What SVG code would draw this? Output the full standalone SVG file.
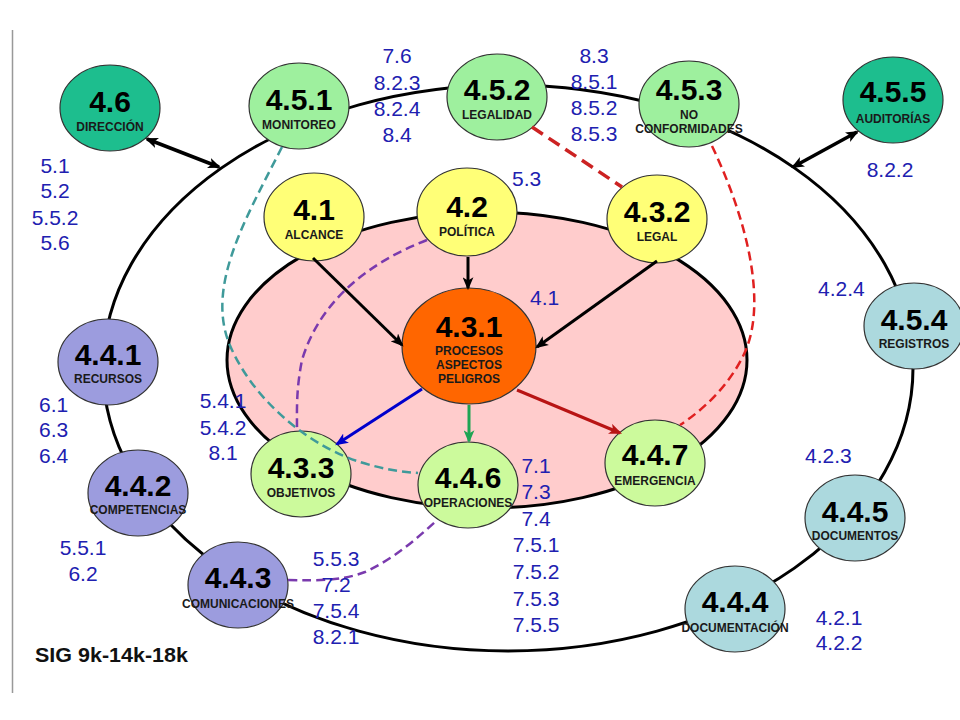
<svg xmlns="http://www.w3.org/2000/svg" width="960" height="720" viewBox="0 0 960 720">
<style>
text{font-family:"Liberation Sans",Arial,sans-serif}
.t{font-size:30px;font-weight:bold;text-anchor:middle;fill:#000}
.l{font-size:12px;font-weight:bold;text-anchor:middle;fill:#1a1a1a}
.n{font-size:21px;fill:#2020B0}
.c{text-anchor:middle}
.nd{stroke:#333;stroke-width:1.2}
.teal{fill:#1DBE8E}.mint{fill:#9EF09E}.yel{fill:#FFFF77}.lime{fill:#CCFA9C}.org{fill:#FF6600}.lav{fill:#9C9CDE}.lb{fill:#ACD9DE}
.dash{fill:none;stroke-width:2.5;stroke-dasharray:9 5}
</style>
<defs>
<marker id="ak" viewBox="0 0 12 10" refX="10" refY="5" markerWidth="13" markerHeight="11" markerUnits="userSpaceOnUse" orient="auto-start-reverse"><path d="M0,0 L12,5 L0,10 L3,5 z" fill="#000"/></marker>
<marker id="ab" viewBox="0 0 12 10" refX="10" refY="5" markerWidth="13" markerHeight="11" markerUnits="userSpaceOnUse" orient="auto"><path d="M0,0 L12,5 L0,10 L3,5 z" fill="#0000CC"/></marker>
<marker id="ag" viewBox="0 0 12 10" refX="10" refY="5" markerWidth="13" markerHeight="11" markerUnits="userSpaceOnUse" orient="auto"><path d="M0,0 L12,5 L0,10 L3,5 z" fill="#1FA453"/></marker>
<marker id="ar" viewBox="0 0 12 10" refX="10" refY="5" markerWidth="13" markerHeight="11" markerUnits="userSpaceOnUse" orient="auto"><path d="M0,0 L12,5 L0,10 L3,5 z" fill="#B81414"/></marker>
</defs>
<rect width="960" height="720" fill="#fff"/>
<line x1="12.5" y1="30" x2="12.5" y2="693" stroke="#999" stroke-width="1.5"/>
<g id="rings">
<ellipse cx="508" cy="368" rx="405" ry="283" fill="none" stroke="#000" stroke-width="3"/>
<ellipse cx="487" cy="360" rx="260" ry="148" fill="#FFCCCC" stroke="#000" stroke-width="3"/>
</g>
<g id="n4_6"><ellipse class="nd teal" cx="110" cy="108" rx="50" ry="43"/><text class="t" x="110" y="112">4.6</text><text class="l" x="110" y="131">DIRECCIÓN</text></g>
<g id="n4_5_1"><ellipse class="nd mint" cx="299" cy="106" rx="50" ry="43"/><text class="t" x="299" y="110">4.5.1</text><text class="l" x="299" y="129">MONITOREO</text></g>
<g id="n4_5_2"><ellipse class="nd mint" cx="497" cy="97" rx="50" ry="43"/><text class="t" x="497" y="100">4.5.2</text><text class="l" x="497" y="119">LEGALIDAD</text></g>
<g id="n4_5_3"><ellipse class="nd mint" cx="689" cy="104" rx="50" ry="43"/><text class="t" x="689" y="100">4.5.3</text><text class="l" x="689" y="119">NO</text><text class="l" x="689" y="133">CONFORMIDADES</text></g>
<g id="n4_5_5"><ellipse class="nd teal" cx="893" cy="100" rx="50" ry="43"/><text class="t" x="893" y="102">4.5.5</text><text class="l" x="893" y="123">AUDITORÍAS</text></g>
<g id="n4_1"><ellipse class="nd yel" cx="314" cy="217" rx="50" ry="44"/><text class="t" x="314" y="220">4.1</text><text class="l" x="314" y="239">ALCANCE</text></g>
<g id="n4_2"><ellipse class="nd yel" cx="467" cy="212" rx="50" ry="44"/><text class="t" x="467" y="217">4.2</text><text class="l" x="467" y="236">POLÍTICA</text></g>
<g id="n4_3_2"><ellipse class="nd yel" cx="657" cy="219" rx="50" ry="44"/><text class="t" x="657" y="222">4.3.2</text><text class="l" x="657" y="241">LEGAL</text></g>
<g id="n4_3_1"><ellipse class="nd org" cx="469" cy="346" rx="67" ry="58"/><text class="t" x="469" y="337">4.3.1</text><text class="l" x="469" y="355">PROCESOS</text><text class="l" x="469" y="369">ASPECTOS</text><text class="l" x="469" y="383">PELIGROS</text></g>
<g id="n4_3_3"><ellipse class="nd lime" cx="301" cy="474" rx="50" ry="43"/><text class="t" x="301" y="478">4.3.3</text><text class="l" x="301" y="497">OBJETIVOS</text></g>
<g id="n4_4_6"><ellipse class="nd lime" cx="468" cy="485" rx="50" ry="43"/><text class="t" x="468" y="488">4.4.6</text><text class="l" x="468" y="507">OPERACIONES</text></g>
<g id="n4_4_7"><ellipse class="nd lime" cx="655" cy="463" rx="50" ry="43"/><text class="t" x="655" y="465">4.4.7</text><text class="l" x="655" y="485">EMERGENCIA</text></g>
<g id="n4_5_4"><ellipse class="nd lb" cx="914" cy="326" rx="50" ry="43"/><text class="t" x="914" y="330">4.5.4</text><text class="l" x="914" y="348">REGISTROS</text></g>
<g id="n4_4_5"><ellipse class="nd lb" cx="855" cy="518" rx="50" ry="43"/><text class="t" x="855" y="522">4.4.5</text><text class="l" x="855" y="540">DOCUMENTOS</text></g>
<g id="n4_4_4"><ellipse class="nd lb" cx="735" cy="609" rx="50" ry="43"/><text class="t" x="735" y="612">4.4.4</text><text class="l" x="735" y="632">DOCUMENTACIÓN</text></g>
<g id="n4_4_1"><ellipse class="nd lav" cx="108" cy="362" rx="50" ry="43"/><text class="t" x="108" y="365">4.4.1</text><text class="l" x="108" y="383">RECURSOS</text></g>
<g id="n4_4_2"><ellipse class="nd lav" cx="138" cy="493" rx="50" ry="43"/><text class="t" x="138" y="496">4.4.2</text><text class="l" x="138" y="514">COMPETENCIAS</text></g>
<g id="n4_4_3"><ellipse class="nd lav" cx="238" cy="585" rx="50" ry="43"/><text class="t" x="238" y="588">4.4.3</text><text class="l" x="238" y="608">COMUNICACIONES</text></g>
<g id="connectors">
<line x1="147" y1="139" x2="219" y2="167" stroke="#000" stroke-width="3.5" marker-start="url(#ak)" marker-end="url(#ak)"/>
<line x1="857" y1="132" x2="793" y2="167" stroke="#000" stroke-width="3.5" marker-start="url(#ak)" marker-end="url(#ak)"/>
<line x1="313" y1="258" x2="402" y2="345" stroke="#000" stroke-width="3" marker-end="url(#ak)"/>
<line x1="468" y1="257" x2="468" y2="288" stroke="#000" stroke-width="3" marker-end="url(#ak)"/>
<line x1="657" y1="261" x2="537" y2="347" stroke="#000" stroke-width="3" marker-end="url(#ak)"/>
<line x1="422" y1="389" x2="337" y2="444" stroke="#0000CC" stroke-width="3" marker-end="url(#ab)"/>
<line x1="469" y1="405" x2="469" y2="441" stroke="#1FA453" stroke-width="3" marker-end="url(#ag)"/>
<line x1="517" y1="390" x2="620" y2="433" stroke="#B81414" stroke-width="3" marker-end="url(#ar)"/>
<path d="M532,127 L622,187" fill="none" stroke="#CC2222" stroke-width="3.5" stroke-dasharray="13 7"/>
<path class="dash" d="M712,146 C745,215 768,300 745,352 C730,385 703,410 680,425" stroke="#E02020" stroke-width="2" stroke-dasharray="7 4"/>
<path class="dash" d="M282,147 C245,220 203,290 232,350 C260,410 320,450 360,462 C385,470 405,472 418,473" stroke="#3F9A9A"/>
<path class="dash" d="M427,240 C370,262 320,300 302,360 C296,390 297,410 297,431" stroke="#7A3AAE"/>
<path class="dash" d="M288,580 C320,581 345,580 365,572 C395,558 415,540 435,522" stroke="#7A3AAE"/>
</g>
<g id="refs">
<text class="n c" x="397"><tspan x="397" y="63">7.6</tspan><tspan x="397" y="90">8.2.3</tspan><tspan x="397" y="116">8.2.4</tspan><tspan x="397" y="142">8.4</tspan></text>
<text class="n c" x="594"><tspan x="594" y="63">8.3</tspan><tspan x="594" y="89">8.5.1</tspan><tspan x="594" y="115">8.5.2</tspan><tspan x="594" y="141">8.5.3</tspan></text>
<text class="n c" x="55"><tspan x="55" y="173">5.1</tspan><tspan x="55" y="198">5.2</tspan><tspan x="55" y="225">5.5.2</tspan><tspan x="55" y="250">5.6</tspan></text>
<text class="n" x="512" y="186">5.3</text>
<text class="n c" x="890" y="177">8.2.2</text>
<text class="n" x="530" y="305">4.1</text>
<text class="n" x="818" y="296">4.2.4</text>
<text class="n" x="39"><tspan x="39" y="412">6.1</tspan><tspan x="39" y="437">6.3</tspan><tspan x="39" y="463">6.4</tspan></text>
<text class="n c" x="223"><tspan x="223" y="408">5.4.1</tspan><tspan x="223" y="435">5.4.2</tspan><tspan x="223" y="460">8.1</tspan></text>
<text class="n c" x="536"><tspan x="536" y="473">7.1</tspan><tspan x="536" y="499">7.3</tspan><tspan x="536" y="526">7.4</tspan><tspan x="536" y="552">7.5.1</tspan><tspan x="536" y="579">7.5.2</tspan><tspan x="536" y="606">7.5.3</tspan><tspan x="536" y="632">7.5.5</tspan></text>
<text class="n" x="805" y="463">4.2.3</text>
<text class="n c" x="839"><tspan x="839" y="625">4.2.1</tspan><tspan x="839" y="650">4.2.2</tspan></text>
<text class="n c" x="83"><tspan x="83" y="555">5.5.1</tspan><tspan x="83" y="581">6.2</tspan></text>
<text class="n c" x="336"><tspan x="336" y="566">5.5.3</tspan><tspan x="336" y="592">7.2</tspan><tspan x="336" y="618">7.5.4</tspan><tspan x="336" y="644">8.2.1</tspan></text>
</g>
<text x="35" y="662" font-size="20" font-weight="bold" fill="#111" textLength="153" lengthAdjust="spacingAndGlyphs">SIG 9k-14k-18k</text>
</svg>
